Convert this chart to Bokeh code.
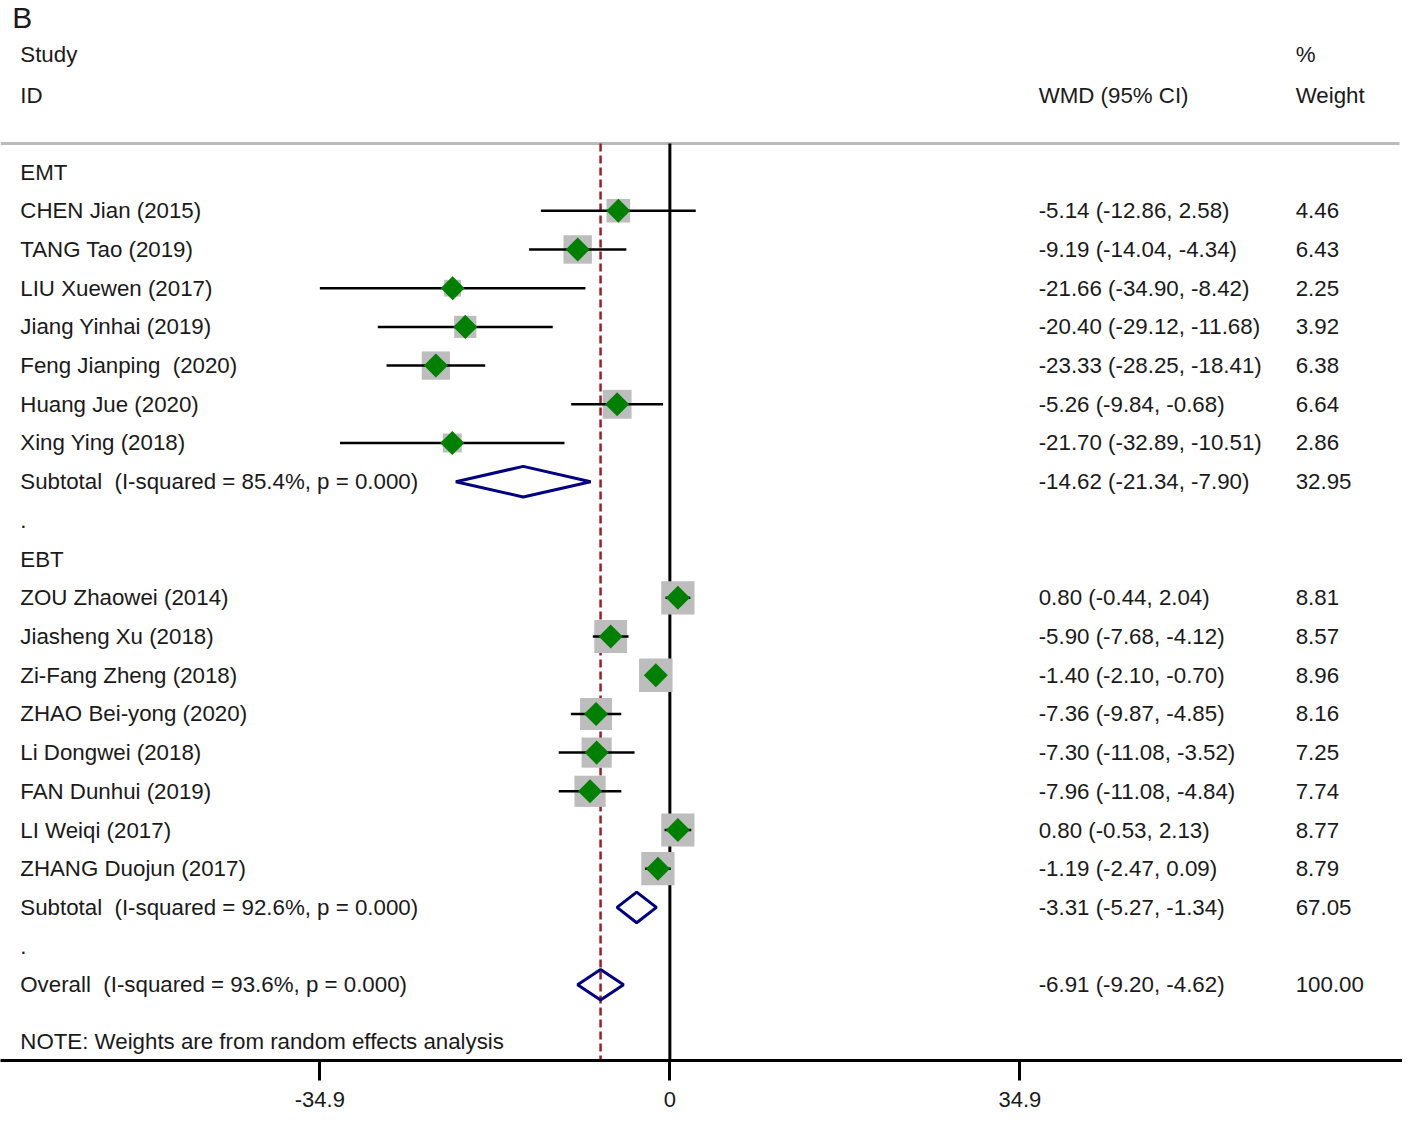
import math
from bokeh.plotting import figure
from bokeh.models import Range1d, FixedTicker, CustomJSTickFormatter
from bokeh.core.properties import value
from bokeh.embed import file_html
from bokeh.resources import INLINE

# ---------------- data ----------------
emt_studies = ["CHEN Jian (2015)", "TANG Tao (2019)", "LIU Xuewen (2017)", "Jiang Yinhai (2019)",
               "Feng Jianping\u00a0 (2020)", "Huang Jue (2020)", "Xing Ying (2018)"]
emt_wmd = [-5.14, -9.19, -21.66, -20.40, -23.33, -5.26, -21.70]
emt_lo = [-12.86, -14.04, -34.90, -29.12, -28.25, -9.84, -32.89]
emt_hi = [2.58, -4.34, -8.42, -11.68, -18.41, -0.68, -10.51]
emt_weight = [4.46, 6.43, 2.25, 3.92, 6.38, 6.64, 2.86]

ebt_studies = ["ZOU Zhaowei (2014)", "Jiasheng Xu (2018)", "Zi-Fang Zheng (2018)", "ZHAO Bei-yong (2020)",
               "Li Dongwei (2018)", "FAN Dunhui (2019)", "LI Weiqi (2017)", "ZHANG Duojun (2017)"]
ebt_wmd = [0.80, -5.90, -1.40, -7.36, -7.30, -7.96, 0.80, -1.19]
ebt_lo = [-0.44, -7.68, -2.10, -9.87, -11.08, -11.08, -0.53, -2.47]
ebt_hi = [2.04, -4.12, -0.70, -4.85, -3.52, -4.84, 2.13, 0.09]
ebt_weight = [8.81, 8.57, 8.96, 8.16, 7.25, 7.74, 8.77, 8.79]

subgroups = ["EMT", "EBT"]
sub_i2 = ["85.4%", "92.6%"]
sub_p = ["0.000", "0.000"]
sub_wmd = [-14.62, -3.31]
sub_lo = [-21.34, -5.27]
sub_hi = [-7.90, -1.34]
sub_weight = [32.95, 67.05]

overall_i2 = "93.6%"
overall_p = "0.000"
overall_wmd = -6.91
overall_lo = -9.20
overall_hi = -4.62
overall_weight = 100.00

tick_values = [-34.9, 0, 34.9]
note_text = "NOTE: Weights are from random effects analysis"
panel_letter = "B"

# ---------------- layout ----------------
FONT = value("Liberation Sans")
FS = "22.3px"
TXT = "#1a1a1a"
REF_PX_PER_UNIT = 354 / 34.9
REF_ROW_PX = 39.25
REF_ROW0 = 174.0


def col_x(ref_x):
    return (ref_x - 677) / REF_PX_PER_UNIT


def row_at(ref_y):
    return -(ref_y - REF_ROW0) / REF_ROW_PX


W, H = 1402, 1111
FRAME_H = round(1075 * H / 1127)
x_start = col_x(0)
x_end = col_x(1418)
y_top = row_at(0)
y_bot = row_at(1075)

p = figure(width=W, height=H, output_backend="svg", toolbar_location=None,
           x_range=Range1d(x_start, x_end), y_range=Range1d(y_bot, y_top),
           min_border=0, min_border_bottom=H - FRAME_H,
           outline_line_color=None, background_fill_color="white", border_fill_color="white")
p.yaxis.visible = False
p.xgrid.visible = False
p.ygrid.visible = False

# rows (row index -> y = -row)
study_rows, study_est, study_lo, study_hi, study_w = [], [], [], [], []
labels_y, labels_txt = [], []
wmd_y, wmd_txt, w_txt = [], [], []
sub_rows = []
r = 0
for g, (names, est, lo, hi, w) in enumerate([(emt_studies, emt_wmd, emt_lo, emt_hi, emt_weight),
                                              (ebt_studies, ebt_wmd, ebt_lo, ebt_hi, ebt_weight)]):
    labels_y.append(-r); labels_txt.append(subgroups[g]); r += 1
    for i in range(len(names)):
        study_rows.append(-r); study_est.append(est[i]); study_lo.append(lo[i]); study_hi.append(hi[i])
        study_w.append(w[i])
        labels_y.append(-r); labels_txt.append(names[i])
        wmd_y.append(-r); wmd_txt.append(f"{est[i]:.2f} ({lo[i]:.2f}, {hi[i]:.2f})"); w_txt.append(f"{w[i]:.2f}")
        r += 1
    sub_rows.append(-r)
    labels_y.append(-r); labels_txt.append(f"Subtotal\u00a0 (I-squared = {sub_i2[g]}, p = {sub_p[g]})")
    wmd_y.append(-r); wmd_txt.append(f"{sub_wmd[g]:.2f} ({sub_lo[g]:.2f}, {sub_hi[g]:.2f})")
    w_txt.append(f"{sub_weight[g]:.2f}")
    r += 1
    labels_y.append(-r); labels_txt.append("."); r += 1
overall_row = -r
labels_y.append(overall_row); labels_txt.append(f"Overall\u00a0 (I-squared = {overall_i2}, p = {overall_p})")
wmd_y.append(overall_row); wmd_txt.append(f"{overall_wmd:.2f} ({overall_lo:.2f}, {overall_hi:.2f})")
w_txt.append(f"{overall_weight:.2f}")
note_row = row_at(1056)

header_line_y = row_at(145)
study_hdr_y = row_at(55)
id_hdr_y = row_at(96)

# header separator
p.segment(x0=[x_start], y0=[header_line_y], x1=[col_x(1415)], y1=[header_line_y],
          line_color="#bbbbbb", line_width=3)
# reference lines
p.segment(x0=[0], y0=[header_line_y], x1=[0], y1=[y_bot], line_color="black", line_width=3)
p.segment(x0=[overall_wmd], y0=[header_line_y], x1=[overall_wmd], y1=[y_bot], line_color="#991f2b",
          line_width=2.5, line_dash="8 4")

# weight boxes
box_sizes = [11.2 * math.sqrt(w) for w in study_w]
p.scatter(x=study_est, y=study_rows, marker="square", size=box_sizes, fill_color="#BDBDBD", line_color=None)
# CI lines
p.segment(x0=study_lo, y0=study_rows, x1=study_hi, y1=study_rows, line_color="black", line_width=2.5)
# point estimates
p.scatter(x=study_est, y=study_rows, marker="square", angle=math.pi / 4, size=17,
          fill_color="#008000", line_color=None)

# pooled diamonds
dh = 0.395
xs, ys = [], []
for est, lo, hi, yy in zip(sub_wmd + [overall_wmd], sub_lo + [overall_lo], sub_hi + [overall_hi],
                           sub_rows + [overall_row]):
    xs.append([lo, est, hi, est])
    ys.append([yy, yy + dh, yy, yy - dh])
p.patches(xs=xs, ys=ys, fill_color=None, line_color="#000080", line_width=3)


# texts
def txt(x, y, t, size=FS, align="left", baseline="middle"):
    p.text(x=[x] * len(y), y=y, text=t, text_font=FONT, text_font_size=size, text_color=TXT,
           text_align=align, text_baseline=baseline)


xc_study = col_x(20)
xc_wmd = col_x(1050)
xc_w = col_x(1310)
txt(xc_study, labels_y, labels_txt)
txt(xc_study, [study_hdr_y, id_hdr_y, note_row], ["Study", "ID", note_text])
txt(xc_wmd, wmd_y, wmd_txt)
txt(xc_wmd, [id_hdr_y], ["WMD (95% CI)"])
txt(xc_w, wmd_y, w_txt)
txt(xc_w, [study_hdr_y, id_hdr_y], ["%", "Weight"])
txt(col_x(12), [y_top], [panel_letter], size="30px", baseline="top")

# axis
ax = p.xaxis[0]
ax.ticker = FixedTicker(ticks=tick_values, minor_ticks=[])
ax.formatter = CustomJSTickFormatter(code="return tick == 0 ? '0' : tick.toFixed(1);")
ax.axis_line_width = 3
ax.axis_line_color = "black"
ax.major_tick_line_width = 3
ax.major_tick_line_color = "black"
ax.major_tick_in = 0
ax.major_tick_out = 20
ax.minor_tick_line_color = None
ax.major_label_standoff = 11
ax.major_label_text_font = "Liberation Sans"
ax.major_label_text_font_size = "22px"
ax.major_label_text_color = TXT

open("out.html", "w").write(file_html(p, INLINE))
